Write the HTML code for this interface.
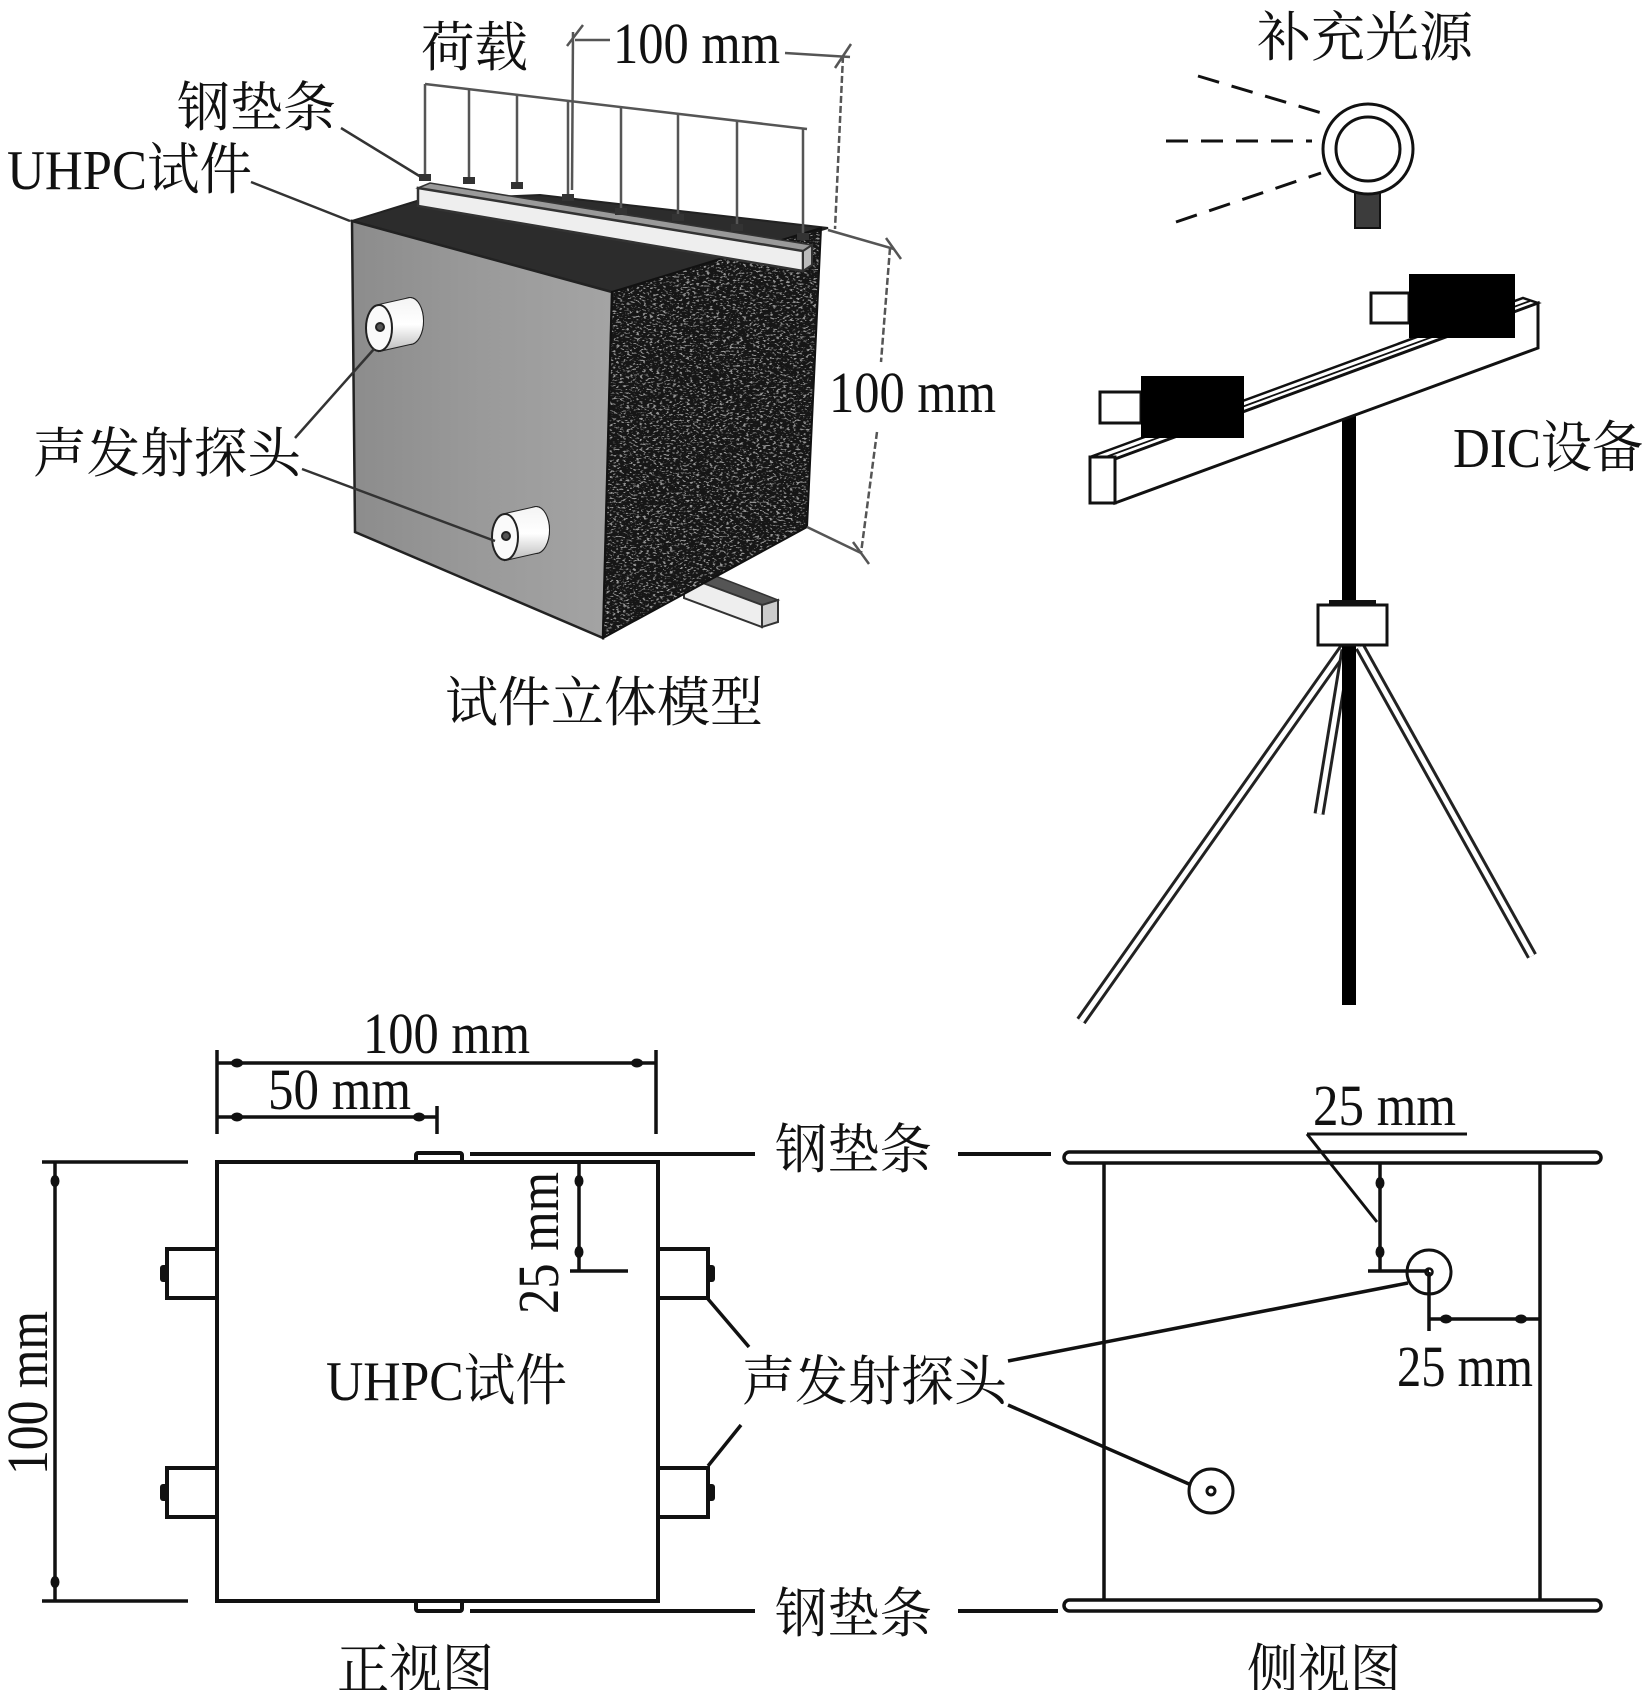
<!DOCTYPE html>
<html><head><meta charset="utf-8"><style>
html,body{margin:0;padding:0;background:#fff;}
svg{display:block;}
text{font-family:"Liberation Serif","Noto Serif CJK SC",serif;fill:#111;}
</style></head><body>
<svg width="1648" height="1690" viewBox="0 0 1648 1690" xmlns="http://www.w3.org/2000/svg">
<defs>
<linearGradient id="ff" x1="0" y1="0" x2="1" y2="0">
<stop offset="0" stop-color="#8c8c8c"/><stop offset="0.5" stop-color="#9a9a9a"/><stop offset="1" stop-color="#a4a4a4"/>
</linearGradient>
<linearGradient id="cyl" x1="0" y1="0" x2="0" y2="1">
<stop offset="0" stop-color="#f4f4f4"/><stop offset="0.5" stop-color="#ffffff"/><stop offset="1" stop-color="#bdbdbd"/>
</linearGradient>
<clipPath id="rf"><polygon points="612,292 821,228 807,527 603,638"/></clipPath>
<filter id="spk" x="0" y="0" width="1" height="1">
<feTurbulence type="fractalNoise" baseFrequency="0.3 0.55" numOctaves="2" seed="7" result="n"/>
<feColorMatrix in="n" type="matrix" values="0 0 0 0 1  0 0 0 0 1  0 0 0 0 1  9 0 0 0 -5.1"/>
</filter>
</defs>

<!-- ===== 3D specimen ===== -->
<!-- bottom bar (behind block) -->
<polygon points="684,576 700,570 778,600 762,605" fill="#555" stroke="#333" stroke-width="1.5"/>
<polygon points="684,576 762,605 762,627 684,598" fill="#eeeeee" stroke="#333" stroke-width="2"/>
<polygon points="762,605 778,600 778,622 762,627" fill="#cccccc" stroke="#333" stroke-width="2"/>

<!-- top face -->
<polygon points="352,221 420,200 540,195 828,228 612,292" fill="#2c2c2c" stroke="#222" stroke-width="2"/>
<!-- front face -->
<polygon points="352,221 612,292 603,638 355,532" fill="url(#ff)" stroke="#222" stroke-width="2.5"/>
<!-- right face speckled -->
<polygon points="612,292 821,228 807,527 603,638" fill="#161616"/>
<g clip-path="url(#rf)"><rect x="600" y="225" width="225" height="420" filter="url(#spk)" opacity="0.55"/></g>
<polygon points="612,292 821,228 807,527 603,638" fill="none" stroke="#111" stroke-width="2"/>

<!-- top steel bar -->
<polygon points="418,188 430,183 812,245 803,251" fill="#9a9a9a" stroke="#333" stroke-width="1.5"/>
<polygon points="418,188 803,251 803,271 418,206" fill="#eeeeee" stroke="#333" stroke-width="2.5"/>
<polygon points="803,251 812,245 812,265 803,271" fill="#bbbbbb" stroke="#333" stroke-width="2"/>

<!-- load frame -->
<g stroke="#555" stroke-width="2.5" fill="none">
<line x1="425" y1="84" x2="807" y2="129"/>
<line x1="425" y1="84" x2="425" y2="178"/>
<line x1="469" y1="89" x2="469" y2="181"/>
<line x1="517" y1="95" x2="517" y2="186"/>
<line x1="568" y1="101" x2="568" y2="198"/>
<line x1="621" y1="107" x2="621" y2="212"/>
<line x1="678" y1="114" x2="678" y2="218"/>
<line x1="737" y1="121" x2="737" y2="228"/>
<line x1="803" y1="128" x2="803" y2="237"/>
</g>
<g fill="#333">
<rect x="419" y="174" width="12" height="7"/><rect x="463" y="177" width="12" height="7"/><rect x="511" y="182" width="12" height="7"/>
<rect x="562" y="194" width="12" height="7"/><rect x="615" y="208" width="12" height="7"/><rect x="672" y="214" width="12" height="7"/>
<rect x="731" y="224" width="12" height="7"/><rect x="797" y="233" width="12" height="7"/>
</g>

<!-- dimension lines (3D) -->
<g stroke="#555" stroke-width="2.5" fill="none">
<line x1="573" y1="32" x2="572" y2="190"/>
<line x1="575" y1="40" x2="610" y2="40"/>
<line x1="785" y1="53" x2="850" y2="57"/>
<line x1="567" y1="46" x2="583" y2="25"/>
<line x1="835" y1="68" x2="851" y2="44"/>
<line x1="843" y1="56" x2="835" y2="229" stroke-dasharray="7 3"/>
<line x1="828" y1="230" x2="894" y2="249"/>
<line x1="886" y1="238" x2="901" y2="259"/>
<line x1="890" y1="248" x2="881" y2="362" stroke-dasharray="7 3"/>
<line x1="877" y1="432" x2="861" y2="553" stroke-dasharray="7 3"/>
<line x1="807" y1="527" x2="861" y2="553"/>
<line x1="853" y1="542" x2="869" y2="564"/>
</g>

<!-- probes 3D -->
<g stroke="#222" stroke-width="2">
<path d="M379,305 L410,298 A13,23 0 0 1 410,344 L379,351 Z" fill="url(#cyl)"/>
<ellipse cx="410" cy="321" rx="13" ry="23" fill="#e0e0e0"/>
<path d="M379,305 L410,298 A13,23 0 0 1 410,344 L379,351 Z" fill="url(#cyl)" stroke="none"/>
<ellipse cx="379" cy="328" rx="13" ry="23" fill="#fafafa"/>
<circle cx="380" cy="327" r="4" fill="#555"/>
<path d="M505,514 L536,507 A13,23 0 0 1 536,553 L505,560 Z" fill="url(#cyl)"/>
<ellipse cx="536" cy="530" rx="13" ry="23" fill="#e0e0e0"/>
<path d="M505,514 L536,507 A13,23 0 0 1 536,553 L505,560 Z" fill="url(#cyl)" stroke="none"/>
<ellipse cx="505" cy="537" rx="13" ry="23" fill="#fafafa"/>
<circle cx="506" cy="536" r="4" fill="#555"/>
</g>

<!-- leaders 3D -->
<g stroke="#333" stroke-width="2.5">
<line x1="341" y1="128" x2="421" y2="177"/>
<line x1="251" y1="182" x2="350" y2="221"/>
<line x1="295" y1="438" x2="374" y2="349"/>
<line x1="302" y1="469" x2="495" y2="541"/>
</g>

<text x="421" y="66" font-size="54" textLength="107" lengthAdjust="spacingAndGlyphs">荷载</text>
<text x="613" y="63" font-size="58" textLength="167" lengthAdjust="spacingAndGlyphs">100 mm</text>
<text x="177" y="126" font-size="54" textLength="159" lengthAdjust="spacingAndGlyphs">钢垫条</text>
<text x="7" y="189" font-size="56" textLength="245" lengthAdjust="spacingAndGlyphs">UHPC试件</text>
<text x="33" y="472" font-size="54" textLength="268" lengthAdjust="spacingAndGlyphs">声发射探头</text>
<text x="445" y="721" font-size="54" textLength="318" lengthAdjust="spacingAndGlyphs">试件立体模型</text>
<text x="829" y="412" font-size="58" textLength="167" lengthAdjust="spacingAndGlyphs">100 mm</text>

<!-- ===== light source ===== -->
<g stroke="#111" stroke-width="3" stroke-dasharray="22 13" fill="none">
<line x1="1198" y1="76" x2="1325" y2="114"/>
<line x1="1166" y1="141" x2="1312" y2="141"/>
<line x1="1176" y1="222" x2="1321" y2="173"/>
</g>
<rect x="1355" y="193" width="25" height="35" fill="#3c3c3c" stroke="#111" stroke-width="2"/>
<circle cx="1368" cy="149" r="45" fill="#fff" stroke="#111" stroke-width="3"/>
<circle cx="1368" cy="149" r="32" fill="#fff" stroke="#111" stroke-width="3"/>
<text x="1257" y="56" font-size="54" textLength="216" lengthAdjust="spacingAndGlyphs">补充光源</text>

<!-- ===== DIC ===== -->
<g stroke-linecap="butt">
<line x1="1345" y1="647" x2="1081" y2="1021" stroke="#222" stroke-width="11"/>
<line x1="1345" y1="647" x2="1081" y2="1021" stroke="#fff" stroke-width="5"/>
<line x1="1360" y1="647" x2="1532" y2="956" stroke="#222" stroke-width="11"/>
<line x1="1360" y1="647" x2="1532" y2="956" stroke="#fff" stroke-width="5"/>
<line x1="1346" y1="650" x2="1319" y2="814" stroke="#222" stroke-width="11"/>
<line x1="1346" y1="650" x2="1319" y2="814" stroke="#fff" stroke-width="5"/>
</g>
<rect x="1342" y="415" width="14" height="590" fill="#000"/>
<rect x="1318" y="605" width="69" height="40" fill="#fff" stroke="#111" stroke-width="3"/>
<rect x="1329" y="600" width="47" height="6" fill="#111"/>
<polygon points="1090,457 1523,298 1538,303 1115,459" fill="#fff" stroke="#111" stroke-width="2.5"/>
<line x1="1103" y1="458" x2="1530" y2="301" stroke="#111" stroke-width="1.8"/>
<polygon points="1115,459 1538,303 1538,348 1115,503" fill="#fff" stroke="#111" stroke-width="3"/>
<rect x="1090" y="457" width="25" height="46" fill="#fff" stroke="#111" stroke-width="3"/>
<rect x="1100" y="392" width="41" height="31" fill="#fff" stroke="#111" stroke-width="3"/>
<rect x="1141" y="376" width="103" height="62" fill="#000"/>
<rect x="1371" y="293" width="38" height="30" fill="#fff" stroke="#111" stroke-width="3"/>
<rect x="1409" y="274" width="106" height="64" fill="#000"/>
<text x="1453" y="467" font-size="56" textLength="190" lengthAdjust="spacingAndGlyphs">DIC设备</text>

<!-- ===== front view ===== -->
<g stroke="#111" stroke-width="4" fill="none">
<rect x="217" y="1162" width="441" height="439" fill="#fff"/>
<rect x="416" y="1153" width="46" height="9" rx="2" fill="#fff"/>
<rect x="416" y="1601" width="46" height="10" rx="2" fill="#fff"/>
<line x1="470" y1="1154" x2="755" y2="1154"/>
<line x1="958" y1="1154" x2="1051" y2="1154"/>
<line x1="470" y1="1611" x2="755" y2="1611"/>
<line x1="958" y1="1611" x2="1058" y2="1611"/>
<line x1="217" y1="1063" x2="656" y2="1063" stroke-width="3.5"/>
<line x1="217" y1="1050" x2="217" y2="1134" stroke-width="3.5"/>
<line x1="656" y1="1050" x2="656" y2="1134" stroke-width="3.5"/>
<line x1="217" y1="1117" x2="437" y2="1117" stroke-width="3.5"/>
<line x1="437" y1="1106" x2="437" y2="1134" stroke-width="3.5"/>
<line x1="42" y1="1162" x2="188" y2="1162" stroke-width="3.5"/>
<line x1="42" y1="1601" x2="188" y2="1601" stroke-width="3.5"/>
<line x1="55" y1="1162" x2="55" y2="1601" stroke-width="3.5"/>
<line x1="579" y1="1162" x2="579" y2="1271" stroke-width="3.5"/>
<line x1="570" y1="1271" x2="628" y2="1271" stroke-width="3.5"/>
<rect x="167" y="1249" width="50" height="49" fill="#fff"/>
<rect x="167" y="1468" width="50" height="49" fill="#fff"/>
<rect x="658" y="1249" width="50" height="49" fill="#fff"/>
<rect x="658" y="1468" width="50" height="49" fill="#fff"/>
</g>
<g fill="#111">
<rect x="160" y="1265" width="8" height="17" rx="3"/><rect x="160" y="1484" width="8" height="17" rx="3"/>
<rect x="707" y="1265" width="8" height="17" rx="3"/><rect x="707" y="1484" width="8" height="17" rx="3"/>
<ellipse cx="237" cy="1063" rx="6" ry="4.5"/><ellipse cx="637" cy="1063" rx="6" ry="4.5"/>
<ellipse cx="237" cy="1117" rx="6" ry="4.5"/><ellipse cx="419" cy="1117" rx="6" ry="4.5"/>
<ellipse cx="55" cy="1181" rx="4.5" ry="6"/><ellipse cx="55" cy="1582" rx="4.5" ry="6"/>
<ellipse cx="579" cy="1181" rx="4.5" ry="6"/><ellipse cx="579" cy="1252" rx="4.5" ry="6"/>
</g>
<g stroke="#111" stroke-width="3.5">
<line x1="708" y1="1299" x2="749" y2="1347"/>
<line x1="741" y1="1425" x2="708" y2="1466"/>
<line x1="1008" y1="1361" x2="1408" y2="1283"/>
<line x1="1008" y1="1405" x2="1189" y2="1484"/>
</g>
<text x="363" y="1053" font-size="58" textLength="167" lengthAdjust="spacingAndGlyphs">100 mm</text>
<text x="268" y="1109" font-size="58" textLength="143" lengthAdjust="spacingAndGlyphs">50 mm</text>
<text x="775" y="1168" font-size="54" textLength="157" lengthAdjust="spacingAndGlyphs">钢垫条</text>
<text x="775" y="1632" font-size="54" textLength="157" lengthAdjust="spacingAndGlyphs">钢垫条</text>
<text x="326" y="1400" font-size="56" textLength="241" lengthAdjust="spacingAndGlyphs">UHPC试件</text>
<text x="742" y="1400" font-size="54" textLength="265" lengthAdjust="spacingAndGlyphs">声发射探头</text>
<text transform="translate(558,1314) rotate(-90)" x="0" y="0" font-size="58" textLength="142" lengthAdjust="spacingAndGlyphs">25 mm</text>
<text transform="translate(47,1475) rotate(-90)" x="0" y="0" font-size="58" textLength="164" lengthAdjust="spacingAndGlyphs">100 mm</text>
<text x="337" y="1688" font-size="54" textLength="157" lengthAdjust="spacingAndGlyphs">正视图</text>

<!-- ===== side view ===== -->
<g stroke="#111" fill="none">
<line x1="1104" y1="1160" x2="1104" y2="1602" stroke-width="3.5"/>
<line x1="1540" y1="1160" x2="1540" y2="1602" stroke-width="3.5"/>
<rect x="1064" y="1152" width="537" height="11" rx="5.5" fill="#fff" stroke-width="3.5"/>
<rect x="1064" y="1600" width="537" height="11" rx="5.5" fill="#fff" stroke-width="3.5"/>
<circle cx="1429" cy="1272" r="22" fill="#fff" stroke-width="3"/>
<circle cx="1429" cy="1272" r="3.5" stroke-width="2.5"/>
<circle cx="1211" cy="1491" r="22" fill="#fff" stroke-width="3"/>
<circle cx="1211" cy="1491" r="4" stroke-width="3"/>
<line x1="1380" y1="1163" x2="1380" y2="1271" stroke-width="3.5"/>
<line x1="1368" y1="1271" x2="1429" y2="1271" stroke-width="3.5"/>
<line x1="1307" y1="1134" x2="1467" y2="1134" stroke-width="3"/>
<line x1="1307" y1="1134" x2="1377" y2="1222" stroke-width="3"/>
<line x1="1429" y1="1272" x2="1429" y2="1331" stroke-width="3.5"/>
<line x1="1429" y1="1319" x2="1539" y2="1319" stroke-width="3.5"/>
</g>
<g fill="#111">
<ellipse cx="1380" cy="1183" rx="4.5" ry="6"/><ellipse cx="1380" cy="1252" rx="4.5" ry="6"/>
<ellipse cx="1446" cy="1319" rx="6" ry="4.5"/><ellipse cx="1521" cy="1319" rx="6" ry="4.5"/>
</g>
<text x="1313" y="1125" font-size="58" textLength="143" lengthAdjust="spacingAndGlyphs">25 mm</text>
<text x="1397" y="1386" font-size="58" textLength="136" lengthAdjust="spacingAndGlyphs">25 mm</text>
<text x="1247" y="1688" font-size="54" textLength="154" lengthAdjust="spacingAndGlyphs">侧视图</text>
</svg>
</body></html>
